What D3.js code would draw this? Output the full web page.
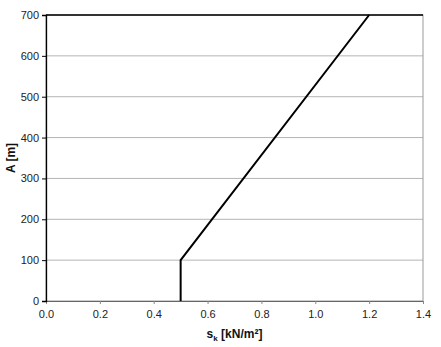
<!DOCTYPE html>
<html>
<head>
<meta charset="utf-8">
<script src="https://cdn.jsdelivr.net/npm/d3@7"></script>
<style>
  body { margin: 0; background: #fff; }
  text { font-family: "Liberation Sans", Arial, sans-serif; }
</style>
</head>
<body>
<div id="chart"></div>
<script>
// data
const skValues = [0.5, 0.5, 1.2];
const altitudes = [0, 100, 700];
const xTicks = [0, 0.2, 0.4, 0.6, 0.8, 1.0, 1.2, 1.4];
const yTicks = [0, 100, 200, 300, 400, 500, 600, 700];

const width = 441, height = 347;
const margin = {top: 15, right: 18, bottom: 46, left: 46};

const svg = d3.select("#chart").append("svg")
    .attr("width", width)
    .attr("height", height);

const x = d3.scaleLinear().domain([0, 1.4]).range([margin.left, width - margin.right]);
const y = d3.scaleLinear().domain([0, 700]).range([height - margin.bottom, margin.top]);

// gridlines
svg.append("g")
    .selectAll("line")
    .data(yTicks.filter(d => d > 0 && d < 700))
    .enter().append("line")
    .attr("x1", x(0)).attr("x2", x(1.4))
    .attr("y1", d => y(d)).attr("y2", d => y(d))
    .attr("stroke", "#b4b4b4")
    .attr("stroke-width", 1);

// plot area border
svg.append("rect")
    .attr("x", x(0)).attr("y", y(700))
    .attr("width", x(1.4) - x(0)).attr("height", y(0) - y(700))
    .attr("fill", "none")
    .attr("stroke", "#9a9a9a");

svg.append("line")
    .attr("x1", x(0)).attr("x2", x(1.4))
    .attr("y1", y(700)).attr("y2", y(700))
    .attr("stroke", "#000").attr("stroke-width", 1.5);

// axes
const xAxis = d3.axisBottom(x).tickValues(xTicks).tickFormat(d3.format(".1f")).tickSize(3).tickPadding(6);
const yAxis = d3.axisLeft(y).tickValues(yTicks).tickSize(4).tickPadding(3);

const gx = svg.append("g")
    .attr("transform", `translate(0,${y(0)})`)
    .call(xAxis);
gx.select(".domain").attr("stroke", "#666");
gx.selectAll(".tick line").attr("stroke", "#888");

const gy = svg.append("g")
    .attr("transform", `translate(${x(0)},0)`)
    .call(yAxis);
gy.select(".domain").attr("stroke", "#000").attr("stroke-width", 1.3);

svg.selectAll(".tick text")
    .attr("font-size", 11)
    .attr("fill", "#222")
    .style("font-family", "Liberation Sans, Arial, sans-serif");

// the curve
const points = skValues.map((v, i) => [v, altitudes[i]]);
svg.append("path")
    .datum(points)
    .attr("fill", "none")
    .attr("stroke", "#000")
    .attr("stroke-width", 2)
    .attr("d", d3.line().x(d => x(d[0])).y(d => y(d[1])));

// axis titles
const xl = svg.append("text")
    .attr("x", (x(0) + x(1.4)) / 2)
    .attr("y", 338)
    .attr("text-anchor", "middle")
    .attr("font-size", 12)
    .attr("font-weight", "bold")
    .attr("fill", "#111");
xl.append("tspan").text("s");
xl.append("tspan").attr("font-size", 8).attr("dy", 3).text("k");
xl.append("tspan").attr("dy", -3).text(" [kN/m²]");

svg.append("text")
    .attr("transform", `translate(15,${(y(0) + y(700)) / 2}) rotate(-90)`)
    .attr("text-anchor", "middle")
    .attr("font-size", 12)
    .attr("font-weight", "bold")
    .attr("fill", "#111")
    .text("A [m]");
</script>
</body>
</html>
